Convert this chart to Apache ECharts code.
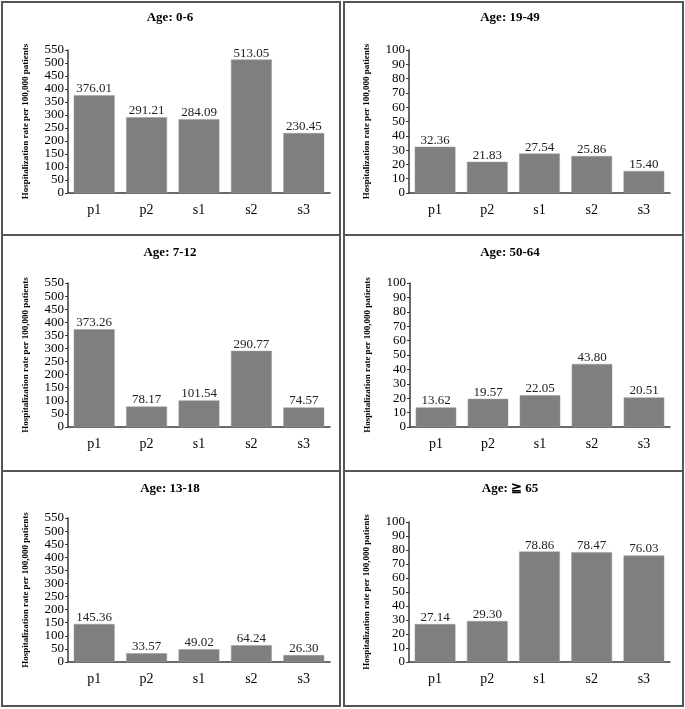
<!DOCTYPE html>
<html>
<head>
<meta charset="utf-8">
<script src="https://cdn.jsdelivr.net/npm/echarts@6/dist/echarts.min.js"></script>
<style>
html,body{margin:0;padding:0;background:#fff;}
#c{width:685px;height:709px;}
</style>
</head>
<body>
<div id="c"></div>
<script>
const categories = ['p1', 'p2', 's1', 's2', 's3'];
const panelTitles = ['Age: 0-6', 'Age: 19-49', 'Age: 7-12', 'Age: 50-64', 'Age: 13-18', 'Age: \u2267 65'];
const age0to6 = [376.01, 291.21, 284.09, 513.05, 230.45];
const age19to49 = [32.36, 21.83, 27.54, 25.86, 15.40];
const age7to12 = [373.26, 78.17, 101.54, 290.77, 74.57];
const age50to64 = [13.62, 19.57, 22.05, 43.80, 20.51];
const age13to18 = [145.36, 33.57, 49.02, 64.24, 26.30];
const age65plus = [27.14, 29.30, 78.86, 78.47, 76.03];
const yNameText = 'Hospitalization rate per 100,000 patients';
const childMax = 550, childStep = 50;
const adultMax = 100, adultStep = 10;

const panelData = [age0to6, age19to49, age7to12, age50to64, age13to18, age65plus];
const panelMax = [childMax, adultMax, childMax, adultMax, childMax, adultMax];
const panelStep = [childStep, adultStep, childStep, adultStep, childStep, adultStep];

// layout (pixels)
const grids = [
  {left: 68, top: 50, width: 262, height: 143},
  {left: 409, top: 50, width: 261, height: 143},
  {left: 68, top: 283, width: 262, height: 144},
  {left: 410, top: 283, width: 260, height: 144},
  {left: 68, top: 518, width: 262, height: 144},
  {left: 409, top: 522, width: 261, height: 140}
];
const titlePos = [
  {x: 170, y: 11}, {x: 510, y: 11},
  {x: 170, y: 246}, {x: 510, y: 246},
  {x: 170, y: 482}, {x: 510, y: 482}
];

const serif = '"Liberation Serif", "Times New Roman", "DejaVu Serif", serif';
const axisColor = '#3a3a3a';

const option = {
  backgroundColor: '#ffffff',
  animation: false,
  title: panelTitles.map((t, i) => ({
    text: t,
    left: titlePos[i].x,
    top: titlePos[i].y,
    textAlign: 'center',
    padding: 0,
    textStyle: {fontFamily: serif, fontSize: 13, fontWeight: 'bold', color: '#000'}
  })),
  grid: grids.map(g => Object.assign({containLabel: false}, g)),
  xAxis: grids.map((g, i) => ({
    type: 'category',
    gridIndex: i,
    data: categories,
    axisLine: {show: true, lineStyle: {color: axisColor, width: 1.5}},
    axisTick: {show: false},
    axisLabel: {fontFamily: serif, fontSize: 14, color: '#000', margin: 10},
    splitLine: {show: false}
  })),
  yAxis: grids.map((g, i) => ({
    type: 'value',
    gridIndex: i,
    min: 0,
    max: panelMax[i],
    interval: panelStep[i],
    name: yNameText,
    nameLocation: 'middle',
    nameGap: 38,
    nameTextStyle: {fontFamily: serif, fontSize: 9, fontWeight: 'bold', color: '#000'},
    axisLine: {show: true, lineStyle: {color: axisColor, width: 1.5}},
    axisTick: {show: true, length: 3, lineStyle: {color: axisColor}},
    axisLabel: {fontFamily: serif, fontSize: 13, color: '#000', margin: 4},
    splitLine: {show: false}
  })),
  series: panelData.map((d, i) => ({
    type: 'bar',
    xAxisIndex: i,
    yAxisIndex: i,
    data: d,
    barCategoryGap: '22%',
    itemStyle: {color: '#7f7f7f', borderColor: '#9a9a9a', borderWidth: 0.5},
    label: {
      show: true,
      position: 'top',
      distance: 0,
      fontFamily: serif,
      fontSize: 13,
      color: '#222',
      formatter: p => Number(p.value).toFixed(2)
    }
  })),
  graphic: [
    {type: 'rect', shape: {x: 2, y: 2, width: 338, height: 233}, style: {fill: null, stroke: '#555', lineWidth: 2}, silent: true, z: -1},
    {type: 'rect', shape: {x: 2, y: 235, width: 338, height: 236}, style: {fill: null, stroke: '#555', lineWidth: 2}, silent: true, z: -1},
    {type: 'rect', shape: {x: 2, y: 471, width: 338, height: 235}, style: {fill: null, stroke: '#555', lineWidth: 2}, silent: true, z: -1},
    {type: 'rect', shape: {x: 344, y: 2, width: 339, height: 233}, style: {fill: null, stroke: '#555', lineWidth: 2}, silent: true, z: -1},
    {type: 'rect', shape: {x: 344, y: 235, width: 339, height: 236}, style: {fill: null, stroke: '#555', lineWidth: 2}, silent: true, z: -1},
    {type: 'rect', shape: {x: 344, y: 471, width: 339, height: 235}, style: {fill: null, stroke: '#555', lineWidth: 2}, silent: true, z: -1}
  ]
};

const chart = echarts.init(document.getElementById('c'), null, {renderer: 'canvas'});
chart.setOption(option);
</script>
</body>
</html>
